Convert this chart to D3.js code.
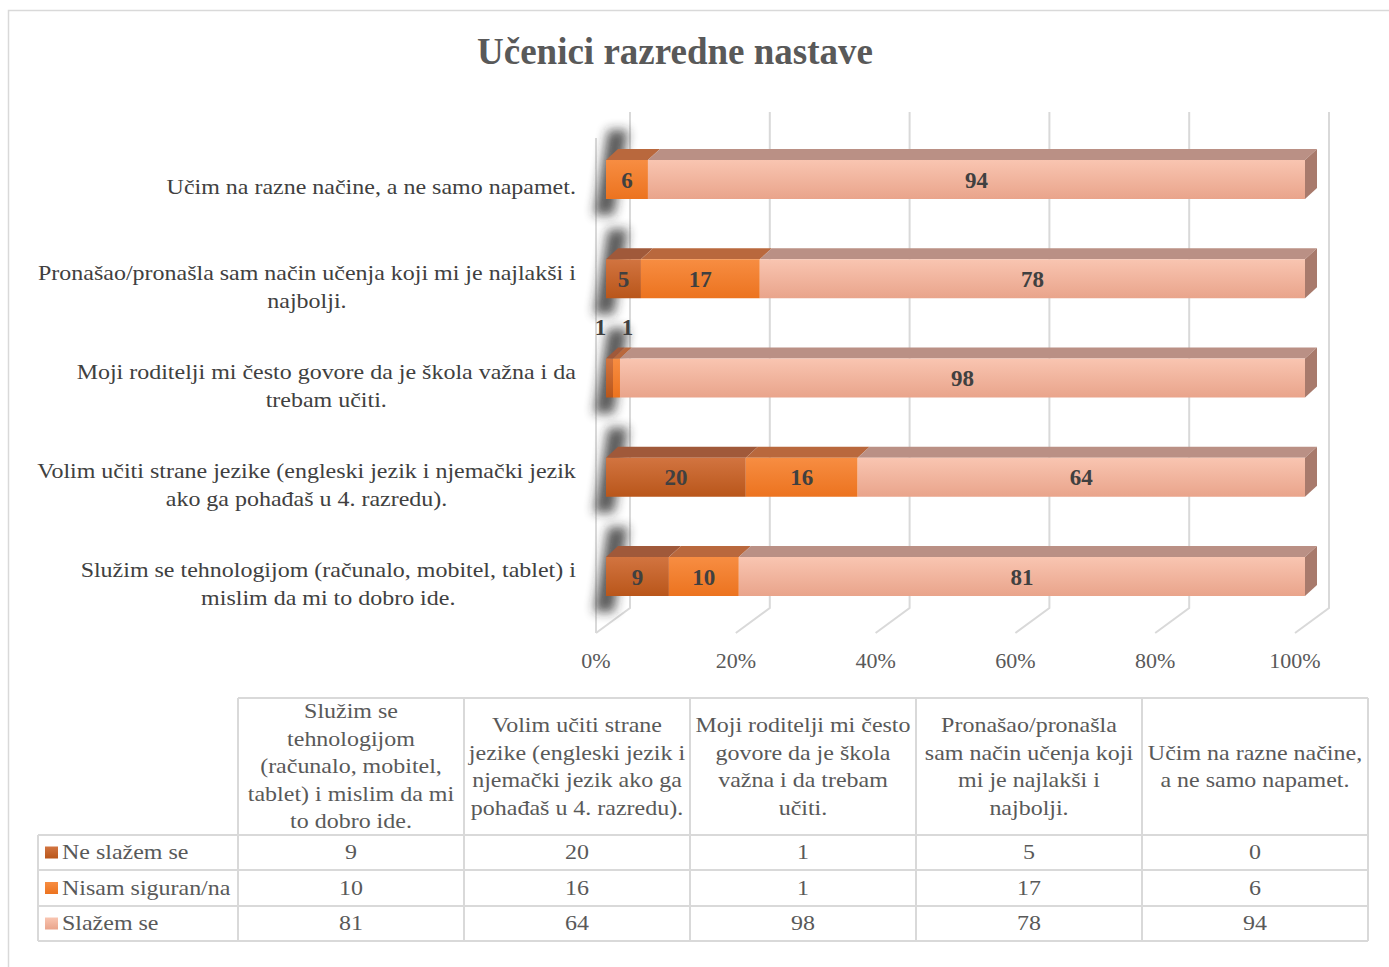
<!DOCTYPE html>
<html><head><meta charset="utf-8">
<script src="https://cdn.jsdelivr.net/npm/d3@7"></script>
<style>body{margin:0;background:#fff}svg{display:block}text{font-family:"Liberation Serif","Times New Roman",serif}</style>
</head><body><svg id="c" width="1389" height="967"></svg>
<script>
const categories = [
  "Služim se tehnologijom (računalo, mobitel, tablet) i mislim da mi to dobro ide.",
  "Volim učiti strane jezike (engleski jezik i njemački jezik ako ga pohađaš u 4. razredu).",
  "Moji roditelji mi često govore da je škola važna i da trebam učiti.",
  "Pronašao/pronašla sam način učenja koji mi je najlakši i najbolji.",
  "Učim na razne načine, a ne samo napamet."
];
const axisLabelLines = [
  ["Služim se tehnologijom (računalo, mobitel, tablet) i", "mislim da mi to dobro ide."],
  ["Volim učiti strane jezike (engleski jezik i njemački jezik", "ako ga pohađaš u 4. razredu)."],
  ["Moji roditelji mi često govore da je škola važna i da", "trebam učiti."],
  ["Pronašao/pronašla sam način učenja koji mi je najlakši i", "najbolji."],
  ["Učim na razne načine, a ne samo napamet."]
];
const tableHeaderLines = [
  ["Služim se", "tehnologijom", "(računalo, mobitel,", "tablet) i mislim da mi", "to dobro ide."],
  ["Volim učiti strane", "jezike (engleski jezik i", "njemački jezik ako ga", "pohađaš u 4. razredu)."],
  ["Moji roditelji mi često", "govore da je škola", "važna i da trebam", "učiti."],
  ["Pronašao/pronašla", "sam način učenja koji", "mi je najlakši i", "najbolji."],
  ["Učim na razne načine,", "a ne samo napamet."]
];
const seriesNames = ["Ne slažem se", "Nisam siguran/na", "Slažem se"];
const neSlazem = [9, 20, 1, 5, 0];
const nisamSiguran = [10, 16, 1, 17, 6];
const slazem = [81, 64, 98, 78, 94];
const tickValues = [0, 20, 40, 60, 80, 100];
const title = "Učenici razredne nastave";

const seriesValues = [neSlazem, nisamSiguran, slazem];
const frontCols = [["#d27440", "#b9561a"], ["#f78d42", "#ec731f"], ["#f9c5b1", "#e9a48b"]];
const topCols = ["#a0593a", "#b9683d", "#ba9085"];
const sideCols = ["#8f4e2c", "#a85e34", "#a87a6c"];
const SX = 1.09, FS = 22;

function stretch(t, sx) {
  const x = +t.attr("x");
  t.attr("transform", `matrix(${sx},0,0,1,${x * (1 - sx)},0)`);
  return t;
}

const svg = d3.select("#c");
const defs = svg.append("defs");
frontCols.forEach((c, i) => {
  const g = defs.append("linearGradient").attr("id", "g" + i).attr("x1", 0).attr("y1", 0).attr("x2", 0).attr("y2", 1);
  g.append("stop").attr("offset", "0%").attr("stop-color", c[0]);
  g.append("stop").attr("offset", "100%").attr("stop-color", c[1]);
});
defs.append("filter").attr("id", "blur").attr("x", "-100%").attr("y", "-50%").attr("width", "300%").attr("height", "200%")
  .append("feGaussianBlur").attr("stdDeviation", 5.5);

// outer border
svg.append("rect").attr("x", 8.5).attr("y", 10.5).attr("width", 1400).attr("height", 1000)
  .attr("fill", "none").attr("stroke", "#d9d9d9").attr("stroke-width", 1.5);

// title
svg.append("text").attr("x", 675).attr("y", 64).attr("text-anchor", "middle")
  .attr("font-size", 37).attr("font-weight", "bold").attr("fill", "#595959").text(title);

// scales
const x = d3.scaleLinear().domain([0, 100]).range([606, 1305]);
const xBack = d3.scaleLinear().domain([0, 100]).range([630, 1329]);
const xFront = d3.scaleLinear().domain([0, 100]).range([596, 1295]);
const y = d3.scalePoint().domain(categories).range([576.5, 179.5]);
const barH = 39, dX = 12, dY = 11;
const wallTop = 112, wallBottom = 608, floorFront = 633;

// gridlines (back wall + floor)
const grid = svg.append("g").attr("stroke", "#d9d9d9").attr("stroke-width", 2).attr("fill", "none");
tickValues.forEach(t => {
  grid.append("path").attr("d", `M${xBack(t)},${wallTop}L${xBack(t)},${wallBottom}L${xFront(t)},${floorFront}`);
});
grid.append("path").attr("d", `M${xFront(0)},${wallTop + 26}L${xFront(0)},${floorFront}`);

// tick labels
svg.append("g").selectAll("text").data(tickValues).join("text")
  .attr("x", d => xFront(d)).attr("y", 668).attr("text-anchor", "middle")
  .attr("font-size", 22).attr("fill", "#595959").text(d => d + "%");

// category labels
const labG = svg.append("g");
categories.forEach((c, i) => {
  const lines = axisLabelLines[i];
  const g = labG.append("g");
  const ts = lines.map(l => g.append("text").attr("font-size", FS).attr("fill", "#404040").text(l));
  const maxW = d3.max(ts, t => t.node().getComputedTextLength()) * SX;
  const cx = 576 - maxW / 2;
  const cy = y(c) + 8;
  const n = lines.length;
  ts.forEach((t, k) => { t.attr("x", cx).attr("text-anchor", "middle")
    .attr("y", cy + (k - (n - 1) / 2) * 28 + 7); stretch(t, SX); });
});

// bars
const barsG = svg.append("g");
categories.forEach((c, i) => {
  const yc = y(c);
  const top = yc - barH / 2, bot = yc + barH / 2;
  barsG.append("path")
    .attr("d", `M${x(0) + 2},${top - 30}L${x(0) + 22},${top - 30}L${x(0) + 8},${bot + 16}L${x(0) - 12},${bot + 16}Z`)
    .attr("fill", "#222").attr("opacity", 0.75).attr("filter", "url(#blur)");
  let cum = 0;
  const segs = seriesValues.map((s, j) => { const o = { j, v: s[i], x0: x(cum), x1: x(cum + s[i]) }; cum += s[i]; return o; });
  segs.forEach(s => {
    if (s.v <= 0) return;
    barsG.append("path").attr("d", `M${s.x0},${top}L${s.x0 + dX},${top - dY}L${s.x1 + dX},${top - dY}L${s.x1},${top}Z`)
      .attr("fill", topCols[s.j]);
    barsG.append("rect").attr("x", s.x0).attr("y", top).attr("width", s.x1 - s.x0).attr("height", barH)
      .attr("fill", `url(#g${s.j})`);
  });
  const last = segs[segs.length - 1];
  barsG.append("path").attr("d", `M${last.x1},${top}L${last.x1 + dX},${top - dY}L${last.x1 + dX},${bot - dY}L${last.x1},${bot}Z`)
    .attr("fill", sideCols[last.j]);
  segs.forEach(s => {
    if (s.v <= 0) return;
    const w = s.x1 - s.x0;
    let lx = (s.x0 + s.x1) / 2, ly = yc + 8;
    if (w < 20) { ly = top - 24; lx = lx + (s.j === 0 ? -9 : 11); }
    barsG.append("text").attr("x", lx).attr("y", ly).attr("text-anchor", "middle")
      .attr("font-size", 23).attr("font-weight", "bold").attr("fill", "#404040").text(s.v);
  });
});

// data table
const colEdges = [238, 464, 690, 916, 1142, 1368];
const rowEdges = [698, 835, 870, 906, 941];
const leftX = 38;
const tbl = svg.append("g");
const ln = tbl.append("g").attr("stroke", "#d9d9d9").attr("stroke-width", 2);
ln.append("line").attr("x1", colEdges[0]).attr("x2", colEdges[5]).attr("y1", rowEdges[0]).attr("y2", rowEdges[0]);
rowEdges.slice(1).forEach(r => ln.append("line").attr("x1", leftX).attr("x2", colEdges[5]).attr("y1", r).attr("y2", r));
colEdges.forEach(cx => ln.append("line").attr("x1", cx).attr("x2", cx).attr("y1", rowEdges[0]).attr("y2", rowEdges[4]));
ln.append("line").attr("x1", leftX).attr("x2", leftX).attr("y1", rowEdges[1]).attr("y2", rowEdges[4]);

categories.forEach((c, i) => {
  const cx = (colEdges[i] + colEdges[i + 1]) / 2;
  const lines = tableHeaderLines[i];
  const cy = (rowEdges[0] + rowEdges[1]) / 2;
  lines.forEach((l, k) => stretch(tbl.append("text").attr("x", cx).attr("y", cy + (k - (lines.length - 1) / 2) * 27.5 + 7)
    .attr("text-anchor", "middle").attr("font-size", FS).attr("fill", "#595959").text(l), SX));
  seriesValues.forEach((s, j) => {
    const ry = (rowEdges[j + 1] + rowEdges[j + 2]) / 2;
    stretch(tbl.append("text").attr("x", cx).attr("y", ry + 7).attr("text-anchor", "middle")
      .attr("font-size", FS).attr("fill", "#595959").text(s[i]), SX);
  });
});
seriesNames.forEach((n, j) => {
  const ry = (rowEdges[j + 1] + rowEdges[j + 2]) / 2;
  tbl.append("rect").attr("x", 45).attr("y", ry - 6).attr("width", 13).attr("height", 12).attr("fill", `url(#g${j})`);
  stretch(tbl.append("text").attr("x", 62).attr("y", ry + 7).attr("font-size", FS).attr("fill", "#595959").text(n), SX);
});
</script></body></html>
